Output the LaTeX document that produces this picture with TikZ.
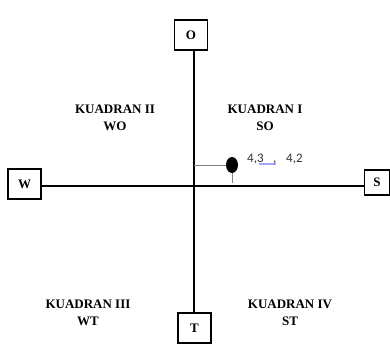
\documentclass[tikz,border=0pt]{standalone}
\usepackage{fontspec}
\usetikzlibrary{shapes.geometric}
\setmainfont{Liberation Serif}
\newfontfamily\numfont{Carlito}
\begin{document}
\begin{tikzpicture}[x=1pt,y=-1pt,
  axisbox/.style={draw,line width=1.3pt,minimum width=33pt,minimum height=30pt,
    inner sep=0pt,font=\bfseries\fontsize{13}{14}\selectfont},
  quad/.style={align=center,font=\bfseries\fontsize{13}{17}\selectfont},
  axisline/.style={line width=2.4pt},
  thin/.style={draw=gray,line width=0.8pt},
  val/.style={font=\numfont\fontsize{13}{13}\selectfont,text=black!80,inner sep=0pt,anchor=base west}]
\useasboundingbox (0,0) rectangle (390,345);
% boxes at the four ends of the axes
\node[axisbox] (O) at (191,35) {O};
\node[axisbox] (T) at (194.5,328) {T};
\node[axisbox] (W) at (24.5,184) {W};
\node[axisbox,minimum width=25pt,minimum height=25pt] (S) at (377,182.5) {S};
% axes
\coordinate (top) at (194,50);
\coordinate (bot) at (194,313);
\coordinate (lft) at (41,186);
\coordinate (rgt) at (364,186);
\draw[axisline] (top) -- (bot);
\draw[axisline] (lft) -- (rgt);
% quadrant labels
\node[quad] (q1) at (265,118) {KUADRAN I\\SO};
\node[quad] (q2) at (115,118) {KUADRAN II\\WO};
\node[quad] (q3) at (88,313) {KUADRAN III\\WT};
\node[quad] (q4) at (290,313) {KUADRAN IV\\ST};
% position marker
\node[fill=black,ellipse,minimum width=12pt,minimum height=16pt,inner sep=0pt] (dot) at (232,165) {};
\coordinate (ax) at (194,165);
\coordinate (foot) at (232,183);
\draw[thin] (ax) -- (dot.west);
\draw[thin] (dot.south) -- (foot);
% values
\fill[blue!35] (259,162.5) rectangle (276,164.5);
\node[val] (v1) at (247,162) {4,3};
\node[val] (vc) at (273,162) {,};
\node[val] (v2) at (286,162) {4,2};
\end{tikzpicture}
\end{document}
